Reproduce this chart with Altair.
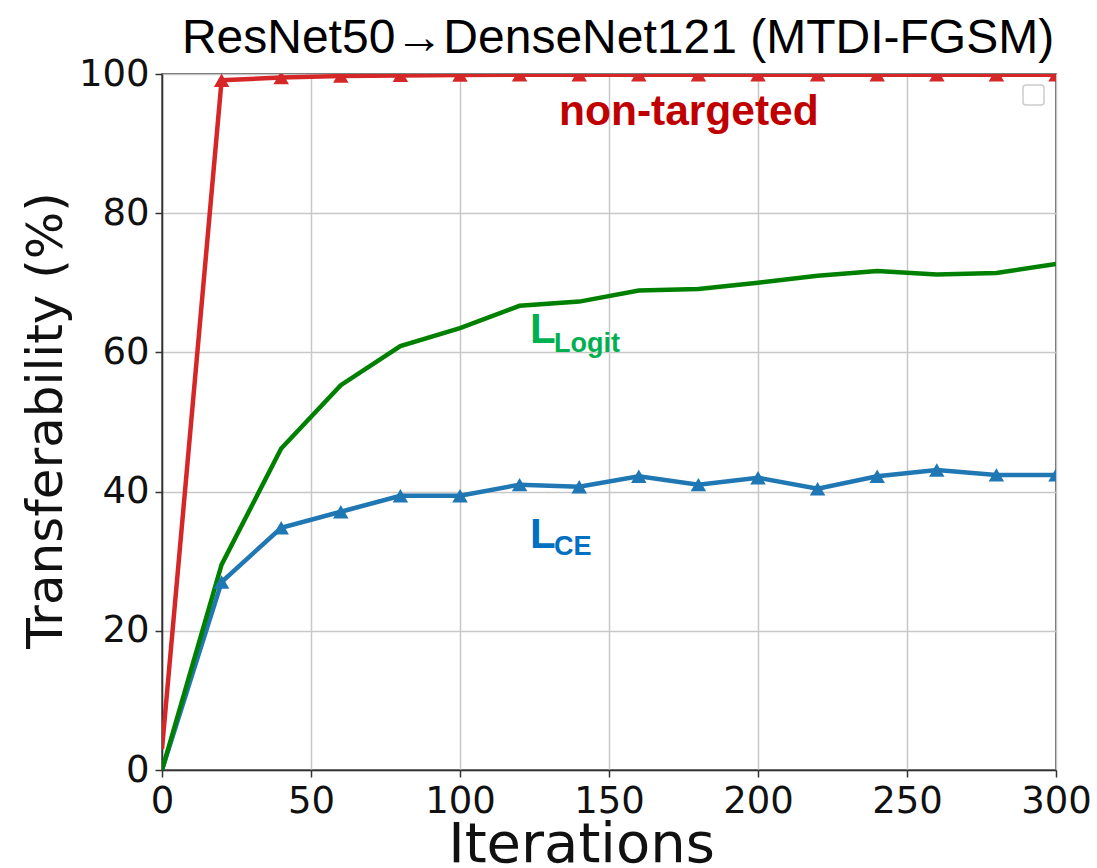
import altair as alt
import pandas as pd

# ---- data ----
iterations = [0, 20, 40, 60, 80, 100, 120, 140, 160, 180, 200, 220, 240, 260, 280, 300]
non_targeted = [3.0, 99.1, 99.5, 99.7, 99.8, 99.85, 99.9, 99.9, 99.9, 99.9, 99.9, 99.9, 99.9, 99.9, 99.9, 99.9]
logit = [0.0, 29.5, 46.2, 55.3, 60.9, 63.5, 66.7, 67.3, 68.9, 69.1, 70.0, 71.0, 71.7, 71.2, 71.4, 72.7]
ce = [0.0, 27.0, 34.8, 37.1, 39.4, 39.4, 41.0, 40.7, 42.2, 41.0, 42.0, 40.4, 42.2, 43.1, 42.4, 42.4]

series_names = ["CE", "Logit", "non-targeted"]
series_colors = ["#1f77b4", "#008000", "#d62728"]
x_ticks = [0, 50, 100, 150, 200, 250, 300]
y_ticks = [0, 20, 40, 60, 80, 100]

title_text = "ResNet50\u2192DenseNet121 (MTDI-FGSM)"

rows = []
for name, vals in zip(series_names, [ce, logit, non_targeted]):
    for it, v in zip(iterations, vals):
        rows.append({"iter": it, "value": v, "series": name})
df = pd.DataFrame(rows)

AXIS_FONT = "DejaVu Sans"

x_enc = alt.X(
    "iter:Q",
    scale=alt.Scale(domain=[0, 300], nice=False, zero=False),
    axis=alt.Axis(
        values=x_ticks, title="Iterations", format="d", labelFlush=False,
        titleFontSize=56, titleX=419, titleY=91, titleAlign="center",
        titleBaseline="alphabetic",
    ),
)
y_enc = alt.Y(
    "value:Q",
    scale=alt.Scale(domain=[0, 100], nice=False),
    axis=alt.Axis(
        values=y_ticks, title="Transferability (%)", format="d", labelFlush=False,
        titleFontSize=50, titleX=-101, titleY=346, titleAngle=270,
        titleAlign="center", titleBaseline="alphabetic",
    ),
)
color_enc = alt.Color(
    "series:N",
    scale=alt.Scale(domain=series_names, range=series_colors),
    legend=None,
)

lines = alt.Chart(df).mark_line(strokeWidth=4.5, clip=True).encode(
    x=x_enc, y=y_enc, color=color_enc, order="iter:Q"
)

points = (
    alt.Chart(df)
    .transform_filter((alt.datum.series != "Logit") & (alt.datum.iter > 0))
    .mark_point(shape="triangle-up", filled=True, size=240, opacity=1, clip=True)
    .encode(x=x_enc, y=y_enc, color=color_enc)
)

one = pd.DataFrame({"a": [0]})

legend_box = alt.Chart(one).mark_rect(
    fill="white", stroke="#cccccc", strokeWidth=1.5, cornerRadius=3
).encode(x=alt.value(861), x2=alt.value(882), y=alt.value(11), y2=alt.value(31))

title = alt.Chart(one).mark_text(
    text=title_text, font="Liberation Sans", fontSize=48, align="center",
    baseline="alphabetic", color="black"
).encode(x=alt.value(456), y=alt.value(-21))

ann_nt = alt.Chart(one).mark_text(
    text="non-targeted", font="Liberation Sans", fontSize=42.5, fontWeight="bold",
    align="left", baseline="alphabetic", color="#C00000"
).encode(x=alt.value(397), y=alt.value(51))

ann_l1 = alt.Chart(one).mark_text(
    text="L", font="Liberation Sans", fontSize=42, fontWeight="bold",
    align="left", baseline="alphabetic", color="#00B050"
).encode(x=alt.value(368), y=alt.value(269))
ann_l1s = alt.Chart(one).mark_text(
    text="Logit", font="Liberation Sans", fontSize=27, fontWeight="bold",
    align="left", baseline="alphabetic", color="#00B050"
).encode(x=alt.value(392), y=alt.value(278))

ann_l2 = alt.Chart(one).mark_text(
    text="L", font="Liberation Sans", fontSize=42, fontWeight="bold",
    align="left", baseline="alphabetic", color="#0070C0"
).encode(x=alt.value(368), y=alt.value(474))
ann_l2s = alt.Chart(one).mark_text(
    text="CE", font="Liberation Sans", fontSize=27, fontWeight="bold",
    align="left", baseline="alphabetic", color="#0070C0"
).encode(x=alt.value(392), y=alt.value(481))

chart = (
    alt.layer(lines, points, legend_box, ann_nt, ann_l1, ann_l1s, ann_l2, ann_l2s, title)
    .properties(
        width=894,
        height=696,
        autosize=alt.AutoSizeParams(type="none"),
        padding={"left": 162, "top": 74, "right": 41, "bottom": 98},
        background="white",
    )
    .configure_view(stroke="#333333", strokeWidth=1.5)
    .configure_axis(
        labelFont=AXIS_FONT,
        labelFontSize=37,
        labelColor="#111111",
        titleFont=AXIS_FONT,
        titleFontWeight="normal",
        titleColor="#111111",
        grid=True,
        gridColor="#c8c8c8",
        gridWidth=1.5,
        domainColor="#333333",
        domainWidth=1.5,
        tickColor="#333333",
        tickWidth=1.5,
        tickSize=7,
    )
    .configure_axisX(labelPadding=6)
    .configure_axisY(labelPadding=6)
)

chart.save("out.html", embed_options={"renderer": "svg", "actions": False})
